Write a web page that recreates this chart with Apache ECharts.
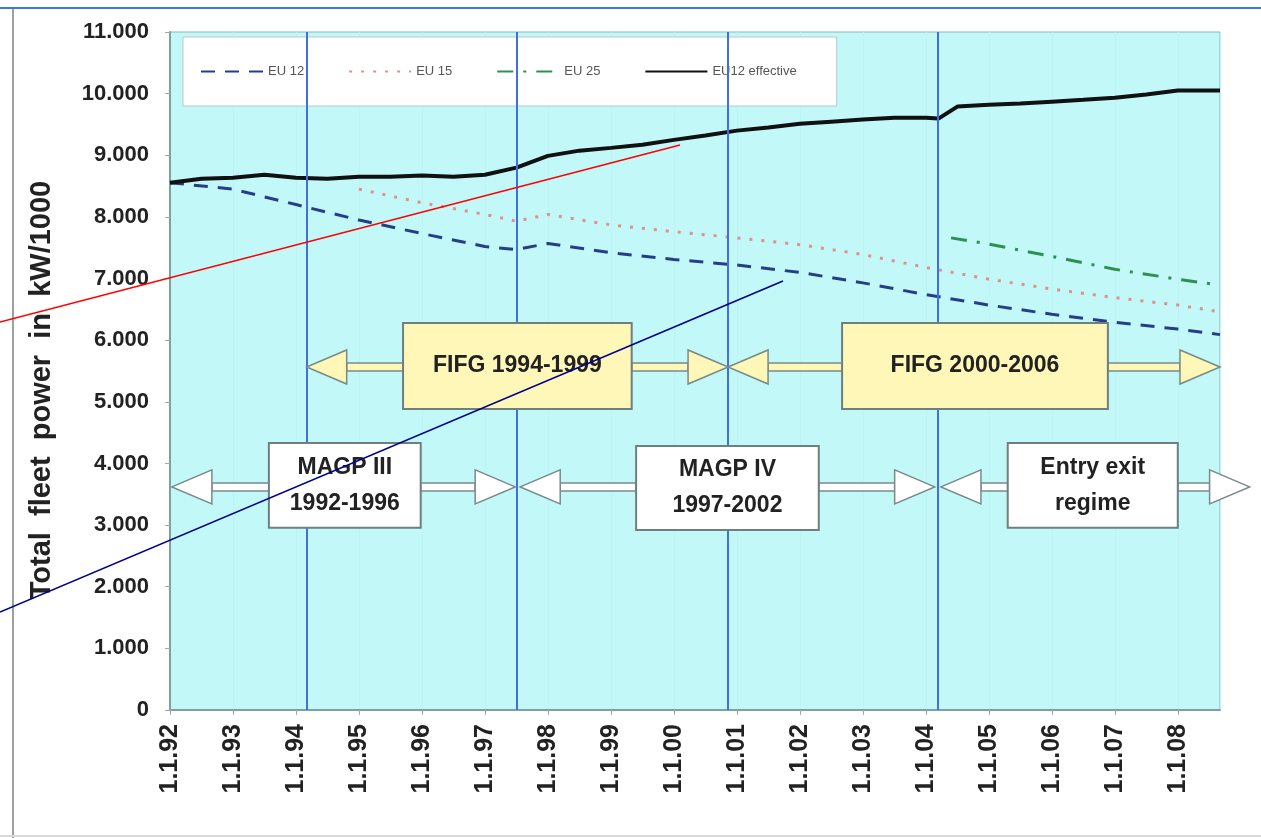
<!DOCTYPE html>
<html>
<head>
<meta charset="utf-8">
<script src="https://cdn.jsdelivr.net/npm/echarts@6/dist/echarts.min.js"></script>
<style>
  html, body { margin: 0; padding: 0; background: #fff; }
  #main { width: 1261px; height: 838px; }
</style>
</head>
<body>
<div id="main"></div>
<script>
// EU fleet power, values in kW/1000, x = decimal year
var effYears  = [1992, 1992.5, 1993, 1993.5, 1994, 1994.5, 1995, 1995.5, 1996, 1996.5, 1997, 1997.5, 1998, 1998.5, 1999, 1999.5, 2000, 2000.5, 2001, 2001.5, 2002, 2002.5, 2003, 2003.5, 2004, 2004.2, 2004.5, 2005, 2005.5, 2006, 2006.5, 2007, 2007.5, 2008, 2008.67];
var effValues = [8555, 8620, 8636, 8685, 8636, 8620, 8650, 8650, 8670, 8650, 8685, 8800, 8990, 9075, 9120, 9170, 9250, 9320, 9400, 9450, 9510, 9545, 9580, 9610, 9610, 9595, 9790, 9820, 9840, 9870, 9900, 9935, 9985, 10050, 10050];

var eu12Years  = [1992, 1993, 1994, 1995, 1996, 1997, 1997.5, 1998, 1999, 2000, 2001, 2002, 2003, 2004, 2005, 2006, 2007, 2008, 2008.67];
var eu12Values = [8555, 8450, 8200, 7950, 7730, 7520, 7470, 7570, 7420, 7310, 7220, 7100, 6930, 6740, 6570, 6420, 6290, 6180, 6090];

var eu15Years  = [1995, 1996, 1997, 1997.5, 1998, 1999, 2000, 2001, 2002, 2003, 2004, 2005, 2006, 2007, 2008, 2008.67];
var eu15Values = [8450, 8230, 8040, 7930, 8040, 7870, 7760, 7660, 7550, 7390, 7180, 6990, 6830, 6690, 6570, 6460];

var eu25Years  = [2004.4, 2005, 2006, 2007, 2008, 2008.55];
var eu25Values = [7660, 7560, 7360, 7150, 6990, 6910];

// policy period boundaries (vertical lines)
var periodBreaks = [1994.17, 1997.51, 2000.86, 2004.19];

// programme annotations: box in data units, arrow from/to years, arrow level
var programmes = [
    {text: 'FIFG 1994-1999', x0: 1995.70, x1: 1999.33, y0: 6280, y1: 4885, from: 1994.17, to: 2000.86, level: 5565, fill: '#fff7b8'},
    {text: 'FIFG 2000-2006', x0: 2002.67, x1: 2006.89, y0: 6280, y1: 4885, from: 2000.86, to: 2008.67, level: 5565, fill: '#fff7b8'},
    {text: 'MAGP III\n1992-1996', x0: 1993.57, x1: 1995.98, y0: 4330, y1: 2955, from: 1992.03, to: 1997.48, level: 3620, fill: '#ffffff'},
    {text: 'MAGP IV\n1997-2002', x0: 1999.40, x1: 2002.30, y0: 4285, y1: 2920, from: 1997.56, to: 2004.14, level: 3620, fill: '#ffffff'},
    {text: 'Entry exit\nregime', x0: 2005.30, x1: 2008.00, y0: 4330, y1: 2955, from: 2004.24, to: 2009.14, level: 3620, fill: '#ffffff'}
];

function pairs(xs, ys) {
    return xs.map(function(x, i) { return [x, ys[i]]; });
}

var FONT = "'Liberation Sans', Arial, sans-serif";

var chart = echarts.init(document.getElementById('main'));

var option = {
    animation: false,
    backgroundColor: '#ffffff',
    grid: {
        left: 170, right: 41, top: 32, bottom: 128,
        show: true,
        backgroundColor: '#c2f8f8',
        borderColor: '#8fb3b3',
        borderWidth: 1
    },
    legend: {
        left: 183, top: 37,
        padding: [28, 40, 28, 17],
        backgroundColor: '#ffffff',
        borderColor: '#b8c8c8',
        borderWidth: 1,
        itemWidth: 62,
        itemHeight: 12,
        itemGap: 44,
        itemStyle: {opacity: 0},
        textStyle: {fontFamily: FONT, fontSize: 13, color: '#555'},
        data: ['EU 12', 'EU 15', 'EU 25', 'EU12 effective']
    },
    xAxis: {
        type: 'value',
        min: 1992,
        max: 2008.67,
        interval: 1,
        axisLine: {show: true, lineStyle: {color: '#7fa0a0', width: 2}},
        axisTick: {show: true, length: 5, lineStyle: {color: '#9ab'}},
        splitLine: {show: true, lineStyle: {color: '#bcf3f3', width: 1}},
        axisLabel: {
            rotate: 90,
            margin: 14,
            showMaxLabel: false,
            fontFamily: FONT,
            fontWeight: 'bold',
            fontSize: 25,
            color: '#222',
            formatter: function(v) {
                if (Math.abs(v - Math.round(v)) > 0.001) return '';
                return '1.1.' + String(Math.round(v)).slice(2);
            }
        }
    },
    yAxis: {
        type: 'value',
        min: 0,
        max: 11000,
        interval: 1000,
        name: 'Total  fleet  power  in  kW/1000',
        nameLocation: 'middle',
        nameGap: 114,
        nameTextStyle: {fontFamily: FONT, fontWeight: 'bold', fontSize: 29, color: '#222', padding: [0, 38, 0, 0]},
        axisLine: {show: true, lineStyle: {color: '#7fa0a0', width: 2}},
        axisTick: {show: true, inside: false, length: 5, lineStyle: {color: '#9ab'}},
        splitLine: {show: false},
        axisLabel: {
            margin: 21,
            fontFamily: FONT,
            fontWeight: 'bold',
            fontSize: 22,
            color: '#222',
            formatter: function(v) {
                if (v === 0) return '0';
                var s = String(v);
                return s.slice(0, s.length - 3) + '.' + s.slice(s.length - 3);
            }
        }
    },
    series: [
        {
            name: 'EU 12',
            type: 'line',
            symbol: 'none',
            data: pairs(eu12Years, eu12Values),
            lineStyle: {color: '#243f86', width: 3, type: [14, 10]},
            itemStyle: {color: '#243f86'},
            z: 3,
            markLine: {
                silent: true,
                symbol: 'none',
                label: {show: false},
                lineStyle: {color: '#3f6fe0', width: 2, type: 'solid'},
                data: periodBreaks.map(function(x) { return {xAxis: x}; })
            }
        },
        {
            name: 'EU 15',
            type: 'line',
            symbol: 'none',
            data: pairs(eu15Years, eu15Values),
            lineStyle: {color: '#e0908c', width: 3, type: [3, 9]},
            itemStyle: {color: '#e0908c'},
            z: 3
        },
        {
            name: 'EU 25',
            type: 'line',
            symbol: 'none',
            data: pairs(eu25Years, eu25Values),
            lineStyle: {color: '#2f8f52', width: 3, type: [16, 10, 3, 10]},
            itemStyle: {color: '#2f8f52'},
            z: 3
        },
        {
            name: 'EU12 effective',
            type: 'line',
            symbol: 'none',
            data: pairs(effYears, effValues),
            lineStyle: {color: '#111', width: 4},
            itemStyle: {color: '#111'},
            z: 4
        }
    ]
};

chart.setOption(option);

// annotation boxes and arrows, placed through the chart's own axes
function px(x, y) {
    return chart.convertToPixel({gridIndex: 0}, [x, y]);
}

function arrowHead(tipX, baseX, cy, fill) {
    var h = 17;
    return {
        type: 'polygon',
        z: 20,
        shape: {points: [[tipX, cy], [baseX, cy - h], [baseX, cy + h]]},
        style: {fill: fill, stroke: '#7a8a8a', lineWidth: 1.5}
    };
}

function shaft(xa, xb, cy, fill) {
    return {
        type: 'rect',
        z: 19,
        shape: {x: Math.min(xa, xb), y: cy - 4, width: Math.abs(xb - xa), height: 8},
        style: {fill: fill, stroke: '#7a8a8a', lineWidth: 1.5}
    };
}

var graphics = [];
programmes.forEach(function(p) {
    var tl = px(p.x0, p.y0);
    var br = px(p.x1, p.y1);
    var left = px(p.from, p.level);
    var right = px(p.to, p.level);
    var cy = left[1];
    var headLen = 40;
    graphics.push(shaft(left[0] + headLen, tl[0], cy, p.fill));
    graphics.push(shaft(br[0], right[0] - headLen, cy, p.fill));
    graphics.push(arrowHead(left[0], left[0] + headLen, cy, p.fill));
    graphics.push(arrowHead(right[0], right[0] - headLen, cy, p.fill));
    graphics.push({
        type: 'rect',
        z: 21,
        shape: {x: tl[0], y: tl[1], width: br[0] - tl[0], height: br[1] - tl[1]},
        style: {fill: p.fill, stroke: '#6f7f7f', lineWidth: 2}
    });
    graphics.push({
        type: 'text',
        z: 22,
        x: (tl[0] + br[0]) / 2,
        y: (tl[1] + br[1]) / 2,
        style: {
            text: p.text,
            fill: '#222',
            font: 'bold 23px ' + FONT,
            align: 'center',
            verticalAlign: 'middle',
            lineHeight: 36
        }
    });
});

// page frame and hand-drawn overlay strokes from the original slide
graphics.push(
    {type: 'line', z: 30, shape: {x1: 0, y1: 8, x2: 1261, y2: 8}, style: {stroke: '#3f73e6', lineWidth: 2}},
    {type: 'line', z: 30, shape: {x1: 13, y1: 9, x2: 13, y2: 838}, style: {stroke: '#a0a0a0', lineWidth: 2}},
    {type: 'line', z: 30, shape: {x1: 0, y1: 836, x2: 1261, y2: 836}, style: {stroke: '#d8d8d8', lineWidth: 2}},
    {type: 'line', z: 40, shape: {x1: 0, y1: 322, x2: 680, y2: 145}, style: {stroke: '#ff0000', lineWidth: 1.6}},
    {type: 'line', z: 40, shape: {x1: 0, y1: 612, x2: 783, y2: 281}, style: {stroke: '#00008b', lineWidth: 1.6}}
);

chart.setOption({graphic: graphics});
</script>
</body>
</html>
